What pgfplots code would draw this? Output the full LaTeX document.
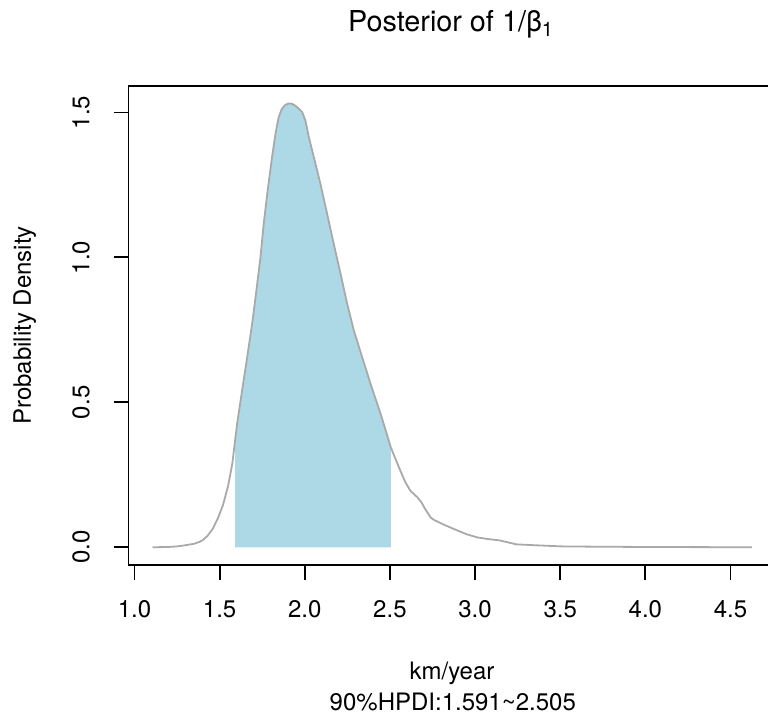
\documentclass[border=0pt]{standalone}
\usepackage{fontspec}
\setmainfont{TeX Gyre Heros}
\usepackage{pgfplots}
\pgfplotsset{compat=1.18}
\definecolor{lightblueR}{HTML}{ADD8E6}
\definecolor{curvegray}{HTML}{A9A9A9}
\begin{document}
\begin{tikzpicture}
\useasboundingbox (0,0) rectangle (384pt,360pt);
\clip (0,0) rectangle (384pt,360pt);
\begin{axis}[
  at={(64.25pt,77.5pt)}, anchor=south west,
  scale only axis, width=323.75pt, height=239.5pt,
  xmin=0.965, xmax=4.767, ymin=-0.0612, ymax=1.5912,
  axis line style={line width=0.9pt},
  every tick/.style={line width=0.9pt, black},
  tick align=outside, major tick length=7.5pt,
  xtick pos=bottom, ytick pos=left,
  xtick={1,1.5,2,2.5,3,3.5,4,4.5},
  ytick={0,0.5,1,1.5},
  /pgf/number format/assume math mode=true,
  /pgf/number format/fixed, /pgf/number format/fixed zerofill,
  /pgf/number format/precision=1,
  xticklabel style={font=\fontsize{12}{14}\selectfont, anchor=base, yshift=-18.5pt},
  yticklabel style={font=\fontsize{12}{14}\selectfont, xshift=-12pt, rotate=90, anchor=base},
  clip=true,
]
\addplot[fill=lightblueR, draw=none] coordinates {
(1.591,0) (1.591,0.37) (1.603,0.427) (1.632,0.541) (1.662,0.656) (1.691,0.771)
(1.716,0.886) (1.740,1.001) (1.759,1.116) (1.782,1.231) (1.808,1.346) (1.828,1.427)
(1.847,1.484) (1.865,1.512) (1.885,1.526) (1.905,1.531) (1.925,1.530) (1.945,1.523)
(1.965,1.513) (1.985,1.501) (2.004,1.472) (2.024,1.415) (2.053,1.346) (2.092,1.254)
(2.131,1.151) (2.170,1.047) (2.210,0.944) (2.249,0.840) (2.288,0.748) (2.337,0.656)
(2.386,0.564) (2.445,0.461) (2.493,0.369) (2.505,0.345) (2.505,0)
};
\addplot[color=curvegray, line width=0.9pt] coordinates {
(1.106,0) (1.20,0.001) (1.25,0.003) (1.30,0.007) (1.35,0.012) (1.38,0.018)
(1.40,0.024) (1.43,0.040) (1.46,0.064) (1.49,0.100) (1.52,0.146) (1.55,0.212)
(1.575,0.290) (1.591,0.37) (1.603,0.427) (1.632,0.541) (1.662,0.656)
(1.691,0.771) (1.716,0.886) (1.740,1.001) (1.759,1.116) (1.782,1.231) (1.808,1.346)
(1.828,1.427) (1.847,1.484) (1.865,1.512) (1.885,1.526) (1.905,1.531) (1.925,1.530)
(1.945,1.523) (1.965,1.513) (1.985,1.501) (2.004,1.472) (2.024,1.415) (2.053,1.346)
(2.092,1.254) (2.131,1.151) (2.170,1.047) (2.210,0.944) (2.249,0.840) (2.288,0.748)
(2.337,0.656) (2.386,0.564) (2.445,0.461) (2.493,0.369) (2.505,0.345) (2.552,0.277)
(2.590,0.225) (2.620,0.195) (2.660,0.173) (2.685,0.155) (2.709,0.130) (2.740,0.102)
(2.760,0.094) (2.82,0.077) (2.90,0.057) (2.95,0.045) (3.013,0.034) (3.08,0.028)
(3.141,0.024) (3.20,0.016) (3.243,0.010) (3.35,0.007) (3.509,0.003) (3.70,0.002)
(3.99,0.001) (4.30,0.0005) (4.626,0)
};
\end{axis}
\node[anchor=base, font=\fontsize{14.4}{17}\selectfont] at (225.5pt,344.15pt) {Posterior of 1/β\textsubscript{1}};
\node[anchor=base, font=\fontsize{12}{14}\selectfont] at (226pt,20.35pt) {km/year};
\node[anchor=base, font=\fontsize{12}{14}\selectfont] at (226.4pt,4.65pt) {90\%HPDI:1.591\char`~2.505};
\node[anchor=base, rotate=90, font=\fontsize{12}{14}\selectfont] at (15.5pt,197.25pt) {Probability Density};
\end{tikzpicture}
\end{document}
